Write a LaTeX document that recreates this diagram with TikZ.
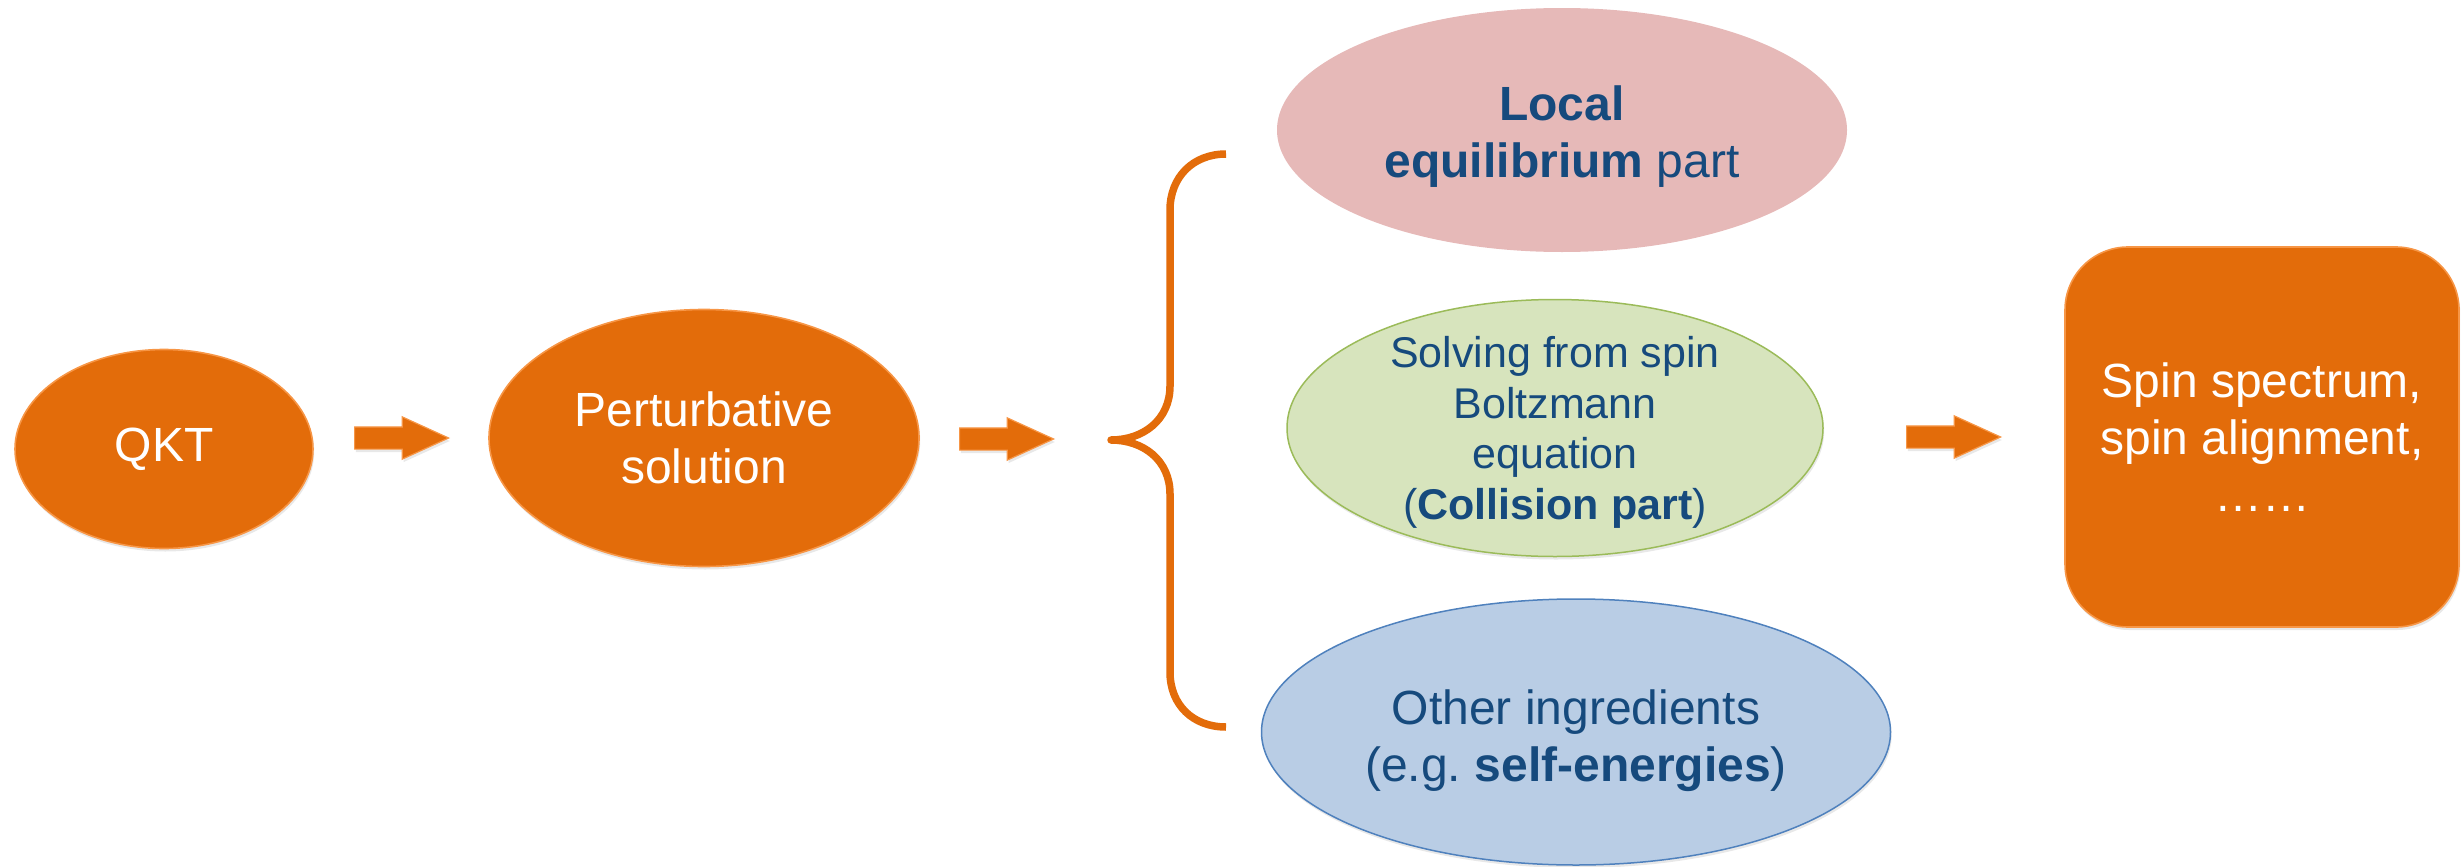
\documentclass[tikz,border=0pt]{standalone}
\usepackage{fontspec}
\setmainfont{Liberation Sans}
\usetikzlibrary{positioning,shapes.geometric,shapes.arrows,shadows}

\definecolor{qorange}{RGB}{227,108,10}
\definecolor{qedge}{RGB}{247,150,70}
\definecolor{qpink}{RGB}{230,185,184}
\definecolor{qgreen}{RGB}{215,228,189}
\definecolor{qgreenedge}{RGB}{155,187,89}
\definecolor{qbluefill}{RGB}{185,205,229}
\definecolor{qblueedge}{RGB}{79,129,189}
\definecolor{qtext}{RGB}{22,74,125}

\newcommand{\mainsize}{\fontsize{24}{28.5}\selectfont}
\newcommand{\collsize}{\fontsize{21.5}{25.3}\selectfont}
\newcommand{\arrowlen}{47pt}
\newcommand{\shafthalf}{5.25pt}

\tikzstyle{softshadow}=[drop shadow={shadow xshift=0.6pt,shadow yshift=-1.5pt,opacity=0.18}]
\tikzstyle{orangeblob}=[shape=ellipse,fill=qorange,draw=qedge,line width=0.8pt,
                        text=white,font=\mainsize,align=center,inner sep=0pt,softshadow]
\tikzstyle{lightblob}=[shape=ellipse,line width=0.75pt,inner sep=0pt]
\tikzstyle{blocktip}=[shape=single arrow,fill=qorange,draw=qedge,line width=0.6pt,
                      minimum height=\arrowlen,inner xsep=0pt,inner ysep=\shafthalf,
                      single arrow head extend=5pt,single arrow tip angle=49,
                      anchor=west,softshadow]
\tikzstyle{bluetext}=[text=qtext,align=center,inner sep=0pt,font=\mainsize]

\begin{document}
\begin{tikzpicture}[x=0.5pt,y=-0.5pt]
\useasboundingbox (0,0) rectangle (2464,867);

\node [orangeblob, minimum width=149pt, minimum height=99.5pt] (qkt) at (164,449) {QKT};
\node [blocktip] (a1) at (354,438) {};
\node [orangeblob, minimum width=215pt, minimum height=128.5pt] (pert) at (704,438) {Perturbative\\solution};
\node [blocktip] (a2) at (959,439) {};

\coordinate (brtop) at (1226,154);
\coordinate (brtip) at (1111,440);
\coordinate (brbot) at (1226,727);
\draw [qorange, line width=3.75pt, line join=round]
      (brtop) .. controls (1193,154) and (1170,177) .. (1170,210) -- (1170,386)
      .. controls (1170,420) and (1143,440) .. (brtip)
      .. controls (1143,440) and (1170,460) .. (1170,494) -- (1170,672)
      .. controls (1170,705) and (1193,727) .. (brbot);

\node [lightblob, fill=qpink, minimum width=285pt, minimum height=122pt] (loc) at (1562,130) {};
\node [bluetext] (loctxt) at ([yshift=-3.25pt]loc.center) {\textbf{Local}\\\textbf{equilibrium} part};

\node [lightblob, fill=qgreen, draw=qgreenedge, softshadow, minimum width=268pt, minimum height=128.5pt] (coll) at (1555,428) {};
\node [bluetext, font=\collsize] (colltxt) at ([yshift=-2.25pt]coll.center) {Solving from spin\\Boltzmann\\equation\\(\textbf{Collision part})};

\node [lightblob, fill=qbluefill, draw=qblueedge, softshadow, minimum width=314.5pt, minimum height=133pt] (other) at (1576,732) {};
\node [bluetext] (othertxt) at ([yshift=-4.5pt]other.center) {Other ingredients\\(e.g.\ \textbf{self-energies})};

\node [blocktip] (a3) at (1906,437) {};
\node [rectangle, rounded corners=31.5pt, fill=qorange, draw=qedge, line width=0.8pt, text=white,
       font=\mainsize, align=center, minimum width=197pt, minimum height=190pt, softshadow]
      (res) at (2262,437) {Spin spectrum,\\spin alignment,\\……};
\end{tikzpicture}
\end{document}
